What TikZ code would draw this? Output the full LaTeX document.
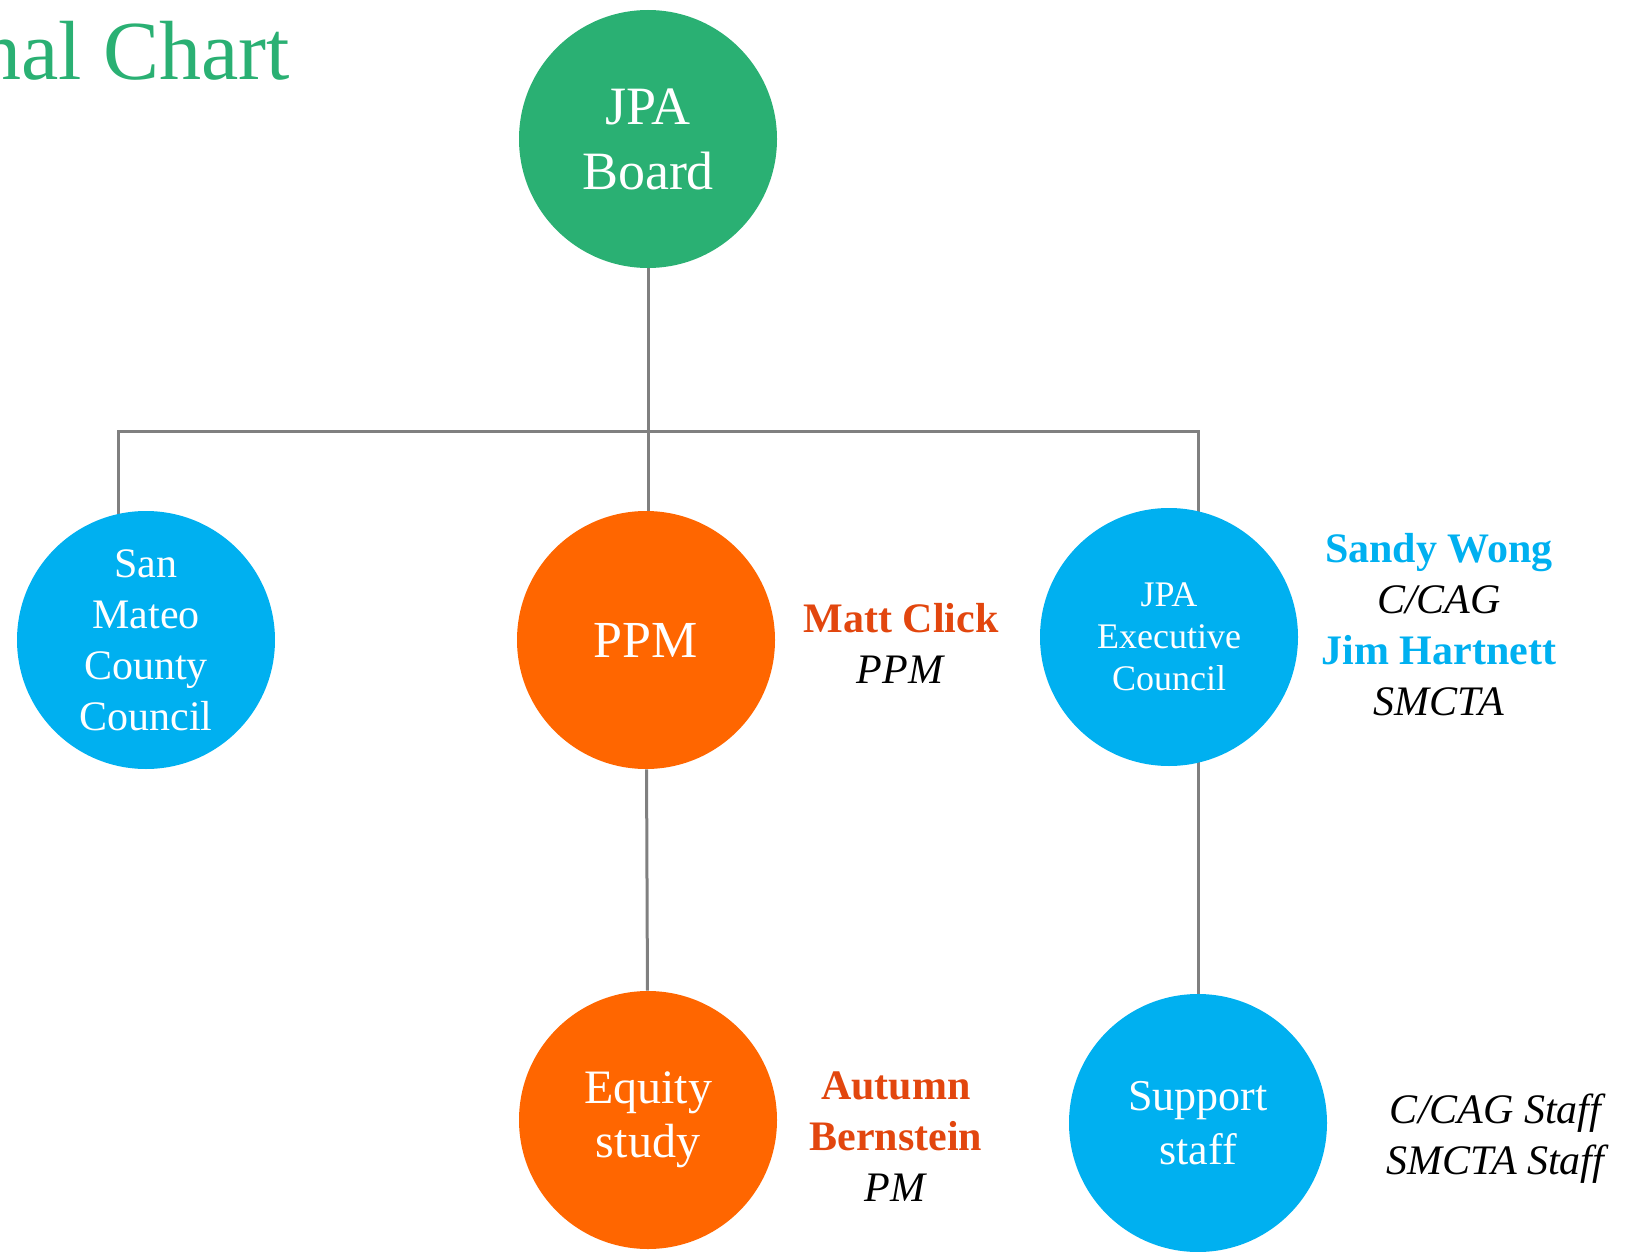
\documentclass[tikz,border=0pt]{standalone}
\usepackage{fontspec}
\setmainfont{Liberation Serif}
\usetikzlibrary{backgrounds}
\definecolor{jpagreen}{RGB}{42,176,115}
\definecolor{ppmorange}{RGB}{255,102,0}
\definecolor{jpablue}{RGB}{0,176,240}
\definecolor{namered}{RGB}{226,70,14}
\definecolor{linegray}{RGB}{128,128,128}
\begin{document}
\begin{tikzpicture}[x=0.5pt, y=-0.5pt, main node/.style={circle,minimum size=129pt,inner sep=0pt,text=white,align=center}, side note/.style={align=center,font=\fontsize{21}{25.5}\selectfont}, link/.style={draw=linegray,line width=1.5pt}]
\useasboundingbox (0,0) rectangle (1634,1252);
\node[anchor=base west,inner sep=0pt,text=jpagreen,font=\fontsize{42}{50}\selectfont] (title) at (-21,80) {nal Chart};
\begin{scope}
\node[main node,fill=jpagreen,font=\fontsize{27}{32.5}\selectfont] (v1) at (648,139) {JPA\\Board};
\node[main node,fill=jpablue,font=\fontsize{21}{25.5}\selectfont] (v2) at (146,640) {San\\Mateo\\County\\Council};
\node[main node,fill=ppmorange,font=\fontsize{26}{30}\selectfont] (v3) at (646,640) {PPM};
\node[main node,fill=jpablue,font=\fontsize{18}{21}\selectfont] (v4) at (1169,637) {JPA\\Executive\\Council};
\node[main node,fill=ppmorange,font=\fontsize{24}{27}\selectfont] (v5) at (648,1120) {Equity\\study};
\node[main node,fill=jpablue,font=\fontsize{22}{27}\selectfont] (v6) at (1198,1123) {Support\\staff};
%\node[main node] (v) at (,) {};
\end{scope}
\begin{scope}
\node[side note] (n3) at (901,643) {\textcolor{namered}{\bfseries Matt Click}\\\textit{PPM}};
\node[side note] (n4) at (1439,625) {\textcolor{jpablue}{\bfseries Sandy Wong}\\\textit{C/CAG}\\\textcolor{jpablue}{\bfseries Jim Hartnett}\\\textit{SMCTA}};
\node[side note] (n5) at (896,1137) {\textcolor{namered}{\bfseries Autumn}\\\textcolor{namered}{\bfseries Bernstein}\\\textit{PM}};
\node[side note] (n6) at (1498,1139) {\textit{C/CAG Staff}\\\textit{SMCTA Staff}};
\end{scope}
\begin{scope}[on background layer]
\coordinate (barL) at (118,431);
\coordinate (barR) at (1198,431);
\draw[link] (v1) -- (v1 |- barL);
\draw[link] (barL |- v2) -- (barL) -- (barR) -- (barR |- v4);
\draw[link] (v1 |- barL) -- (v1 |- v3);
\draw[link] (v3) -- (v5);
\draw[link] (barR |- v4) -- (v6);
\end{scope}
\end{tikzpicture}
\end{document}
